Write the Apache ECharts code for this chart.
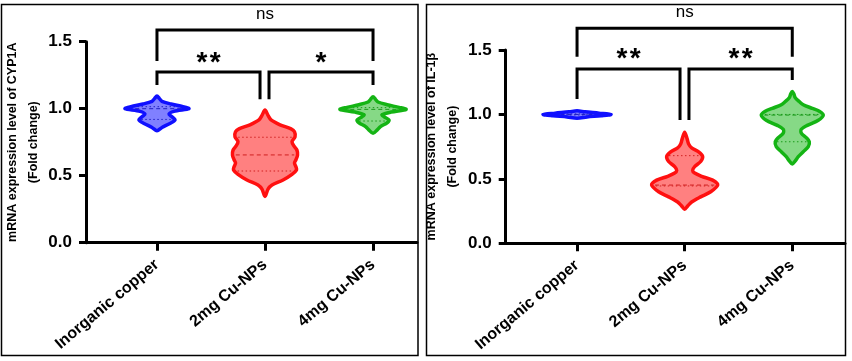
<!DOCTYPE html>
<html><head><meta charset="utf-8">
<script src="https://cdn.jsdelivr.net/npm/echarts@6/dist/echarts.min.js"></script>
<style>html,body{margin:0;padding:0;background:#fff}#c{width:852px;height:361px}</style>
</head><body><div id="c"></div>
<script>
// ---------- data ----------
const categories = ['Inorganic copper', '2mg Cu-NPs', '4mg Cu-NPs'];
const tickPositions = [0, 1, 2];
const yAxisNames = ['mRNA expression level of CYP1A\n(Fold change)', 'mRNA expression level of IL-1β\n(Fold change)'];

// CYP1A violins: value levels (fold change) and half-widths (in category units)
const cypInorgV = [0.835, 0.86, 0.89, 0.915, 0.94, 0.96, 0.98, 1.0, 1.015, 1.035, 1.055, 1.075, 1.095];
const cypInorgW = [0, 0.046, 0.12, 0.167, 0.139, 0.111, 0.157, 0.296, 0.241, 0.13, 0.046, 0.023, 0];
const cyp2mgV = [0.345, 0.40, 0.431, 0.468, 0.51, 0.543, 0.565, 0.595, 0.62, 0.654, 0.69, 0.72, 0.754, 0.79, 0.828, 0.85, 0.88, 0.916, 0.95, 0.99];
const cyp2mgW = [0, 0.028, 0.065, 0.167, 0.25, 0.292, 0.287, 0.273, 0.287, 0.301, 0.296, 0.269, 0.25, 0.278, 0.273, 0.241, 0.139, 0.056, 0.028, 0];
const cyp4mgV = [0.816, 0.84, 0.866, 0.895, 0.916, 0.94, 0.955, 0.975, 0.995, 1.01, 1.03, 1.05, 1.07, 1.09];
const cyp4mgW = [0, 0.037, 0.069, 0.13, 0.148, 0.102, 0.083, 0.167, 0.306, 0.241, 0.13, 0.046, 0.023, 0];
const cypQuartiles = [[0.92, 1.0, 1.015], [0.535, 0.655, 0.787], [0.908, 0.995, 1.008]];

// IL-1β violins
const ilInorgV = [0.97, 0.98, 0.99, 1.0, 1.01, 1.02, 1.028];
const ilInorgW = [0, 0.093, 0.223, 0.316, 0.204, 0.074, 0];
const il2mgV = [0.265, 0.29, 0.32, 0.36, 0.40, 0.452, 0.49, 0.52, 0.545, 0.565, 0.595, 0.635, 0.675, 0.71, 0.74, 0.77, 0.81, 0.862];
const il2mgW = [0, 0.028, 0.065, 0.149, 0.242, 0.307, 0.26, 0.158, 0.093, 0.074, 0.093, 0.149, 0.167, 0.13, 0.065, 0.037, 0.023, 0];
const il4mgV = [0.615, 0.64, 0.672, 0.71, 0.75, 0.788, 0.82, 0.855, 0.885, 0.915, 0.955, 0.995, 1.025, 1.047, 1.075, 1.10, 1.13, 1.16, 1.178];
const il4mgW = [0, 0.028, 0.056, 0.102, 0.149, 0.158, 0.13, 0.084, 0.084, 0.139, 0.242, 0.288, 0.251, 0.186, 0.102, 0.065, 0.028, 0.014, 0];
const ilQuartiles = [[0.996, 1.0, 1.004], [0.445, 0.452, 0.68], [0.788, 0.995, 1.0]];

// significance brackets (x in category units, y in fold change)
const cypBrFrom = [0, 0, 1.037];
const cypBrTo = [2, 0.954, 2];
const cypBrTop = [1.587, 1.273, 1.273];
const cypBrLegL = [1.356, 1.177, 1.07];
const cypBrLegR = [1.356, 1.07, 1.177];
const cypBrText = ['ns', '**', '*'];
const cypBrTextY = [1.707, 1.386, 1.386];

const ilBrFrom = [0, 0, 1.04];
const ilBrTo = [2, 0.957, 2];
const ilBrTop = [1.668, 1.352, 1.352];
const ilBrLegL = [1.448, 1.12, 0.957];
const ilBrLegR = [1.448, 0.957, 1.267];
const ilBrText = ['ns', '**', '**'];
const ilBrTextY = [1.789, 1.473, 1.473];

// ---------- styles ----------
const FONT = '"Liberation Sans", Arial, sans-serif';
const strokes = ['#1010ff', '#ff1010', '#14b414'];
const fills = ['#8080ff', '#ff8080', '#86d986'];
const inner = ['#2020c0', '#d02020', '#1a9a1a'];

function halfAt(V, W, q) {
  for (let i = 0; i < V.length - 1; i++) {
    if (q >= V[i] && q <= V[i + 1]) {
      const t = (q - V[i]) / (V[i + 1] - V[i]);
      return W[i] + t * (W[i + 1] - W[i]);
    }
  }
  return 0;
}

function violin(gi, cat, V, W, Q) {
  return {
    type: 'custom', xAxisIndex: gi, yAxisIndex: gi, clip: false, silent: true,
    data: [[cat, Q[1]]],
    renderItem(params, api) {
      const c = api.value(0);
      const pts = [];
      for (let i = 0; i < V.length; i++) pts.push(api.coord([c + W[i], V[i]]));
      for (let i = V.length - 2; i >= 1; i--) pts.push(api.coord([c - W[i], V[i]]));
      const children = [{
        type: 'polygon', shape: { points: pts, smooth: 0.3 },
        style: { fill: fills[cat], stroke: null }
      }];
      Q.forEach((q, k) => {
        const w = halfAt(V, W, q) * 0.9;
        const a = api.coord([c - w, q]), b = api.coord([c + w, q]);
        children.push({
          type: 'line', shape: { x1: a[0], y1: a[1], x2: b[0], y2: b[1] },
          style: { stroke: inner[cat], lineWidth: 1, lineDash: k === 1 ? [4, 3] : [1.5, 2.5] }
        });
      });
      children.push({
        type: 'polygon', shape: { points: pts, smooth: 0.3 },
        style: { fill: null, stroke: strokes[cat], lineWidth: 3.5, lineJoin: 'round' }
      });
      return { type: 'group', children };
    }
  };
}

function brackets(gi, from, to, top, legL, legR) {
  return {
    type: 'custom', xAxisIndex: gi, yAxisIndex: gi, clip: false, silent: true,
    data: from.map((f, i) => [f, top[i], to[i], legL[i], legR[i]]),
    renderItem(params, api) {
      const x1 = api.value(0), x2 = api.value(2), y = api.value(1);
      const pts = [api.coord([x1, api.value(3)]), api.coord([x1, y]), api.coord([x2, y]), api.coord([x2, api.value(4)])];
      return { type: 'polyline', shape: { points: pts }, style: { stroke: '#000', lineWidth: 3, fill: null } };
    }
  };
}

function labels(gi, from, to, texts, ty) {
  return {
    type: 'custom', xAxisIndex: gi, yAxisIndex: gi, clip: false, silent: true,
    data: from.map((f, i) => [(f + to[i]) / 2, ty[i]]),
    renderItem(params, api) {
      const p = api.coord([api.value(0), api.value(1)]);
      const t = texts[params.dataIndex];
      const star = t !== 'ns';
      return {
        type: 'text', x: p[0], y: p[1] + (star ? 6 : 0),
        style: {
          text: star ? t.split('').join('\u200A') : t, fill: '#000', align: 'center', verticalAlign: 'middle',
          font: star ? 'bold 28px ' + FONT : 'normal 17px ' + FONT
        }
      };
    }
  };
}

const grids = [
  { left: 86, top: 41.7, width: 331, height: 201 },
  { left: 505.7, top: 50, width: 339.3, height: 193.3 }
];
const xRanges = [[-0.657, 2.407], [-0.663, 2.49]];
const nameGaps = [38, 43];

const axisLineStyle = { color: '#000', width: 3 };

const option = {
  animation: false,
  backgroundColor: '#fff',
  grid: grids.map(g => Object.assign({ containLabel: false, outerBoundsMode: 'none' }, g)),
  xAxis: [0, 1].map(gi => ({
    type: 'value', gridIndex: gi, min: xRanges[gi][0], max: xRanges[gi][1],
    splitLine: { show: false },
    axisLine: { show: true, onZero: false, lineStyle: axisLineStyle },
    axisTick: { show: true, customValues: tickPositions, length: 8, lineStyle: axisLineStyle },
    axisLabel: {
      customValues: tickPositions, formatter: v => categories[Math.round(v)],
      rotate: 40, color: '#000', fontWeight: 'bold', fontSize: 16, fontFamily: FONT, margin: 20
    }
  })),
  yAxis: [0, 1].map(gi => ({
    type: 'value', gridIndex: gi, min: 0, max: 1.5, interval: 0.5,
    name: yAxisNames[gi], nameLocation: 'middle', nameRotate: 90, nameGap: nameGaps[gi],
    nameTextStyle: { fontWeight: 'bold', fontSize: 12.5, lineHeight: 21, color: '#000', fontFamily: FONT, align: 'center' },
    splitLine: { show: false },
    axisLine: { show: true, onZero: false, lineStyle: axisLineStyle },
    axisTick: { show: true, length: 7, lineStyle: axisLineStyle },
    axisLabel: { formatter: v => v.toFixed(1), color: '#000', fontWeight: 'bold', fontSize: 17, fontFamily: FONT, margin: 14 }
  })),
  graphic: [
    { type: 'rect', shape: { x: 1.5, y: 4.5, width: 416.5, height: 351 }, style: { fill: null, stroke: '#000', lineWidth: 1.5 }, z: 100 },
    { type: 'rect', shape: { x: 426.5, y: 4.5, width: 419, height: 351 }, style: { fill: null, stroke: '#000', lineWidth: 1.5 }, z: 100 }
  ],
  series: [
    violin(0, 0, cypInorgV, cypInorgW, cypQuartiles[0]),
    violin(0, 1, cyp2mgV, cyp2mgW, cypQuartiles[1]),
    violin(0, 2, cyp4mgV, cyp4mgW, cypQuartiles[2]),
    violin(1, 0, ilInorgV, ilInorgW, ilQuartiles[0]),
    violin(1, 1, il2mgV, il2mgW, ilQuartiles[1]),
    violin(1, 2, il4mgV, il4mgW, ilQuartiles[2]),
    brackets(0, cypBrFrom, cypBrTo, cypBrTop, cypBrLegL, cypBrLegR),
    brackets(1, ilBrFrom, ilBrTo, ilBrTop, ilBrLegL, ilBrLegR),
    labels(0, cypBrFrom, cypBrTo, cypBrText, cypBrTextY),
    labels(1, ilBrFrom, ilBrTo, ilBrText, ilBrTextY)
  ]
};

const chart = echarts.init(document.getElementById('c'), null, { renderer: 'canvas' });
chart.setOption(option);
</script>
</body></html>
